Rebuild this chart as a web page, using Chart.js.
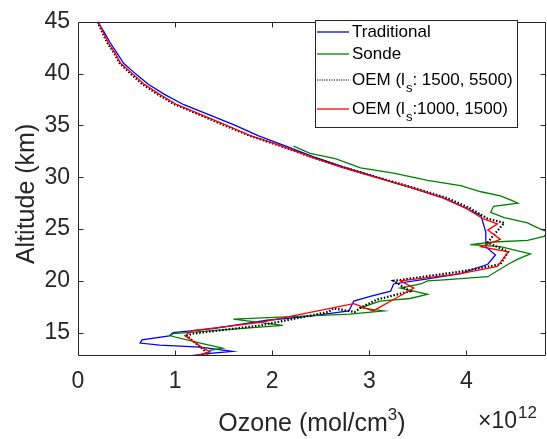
<!DOCTYPE html>
<html>
<head>
<meta charset="utf-8">
<script src="https://cdn.jsdelivr.net/npm/chart.js@4.4.0/dist/chart.umd.min.js"></script>
<style>
html,body{margin:0;padding:0;background:#fff;}
#wrap{width:547px;height:439px;}
</style>
</head>
<body>
<div id="wrap"><canvas id="c" width="547" height="439"></canvas></div>
<script>
// ---- Data (ozone in units of 1e12 mol/cm^3, altitude in km) ----
const xTicks = [0, 1, 2, 3, 4];
const yTicks = [15, 20, 25, 30, 35, 40, 45];

const tradAlt = [45,44,43,42,41,40,39,38,37,36,35,34,33,32,31,30,29,28,27,26.3,24.7,23.3,22.5,21.6,20.7,20.2,19.7,19.0,18.5,18.05,17.1,16.6,16.2,15.4,15.0,14.7,14.3,14.0,13.8,13.6,13.2,13.0,12.65];
const tradO3  = [0.20,0.27,0.33,0.40,0.47,0.59,0.72,0.89,1.09,1.36,1.62,1.86,2.14,2.42,2.73,3.07,3.43,3.76,4.00,4.15,4.20,4.20,4.30,4.22,3.94,3.60,3.25,3.22,3.01,2.84,2.79,2.39,1.95,1.39,0.98,0.94,0.66,0.64,0.84,1.26,1.59,1.36,1.05];

const sondeAlt = [33.0,32.3,31.8,30.9,30.4,29.7,29.2,28.6,28.2,27.8,27.5,27.2,26.6,26.1,25.6,25.3,24.7,24.3,23.9,23.75,23.5,23.3,22.6,22.1,21.6,20.4,20.1,20.0,19.7,19.3,18.7,18.3,18.05,17.4,17.1,16.8,16.3,15.7,14.9,14.7,14.0,13.5,13.3,12.85];
const sondeO3  = [2.22,2.39,2.65,2.91,3.25,3.60,3.94,4.15,4.35,4.46,4.53,4.28,4.25,4.39,4.63,4.69,4.84,4.80,4.63,4.28,4.04,4.35,4.66,4.53,4.43,4.22,3.77,3.60,3.53,3.32,3.60,3.42,3.11,2.91,3.15,2.80,1.60,2.11,0.98,0.95,1.26,1.49,1.36,1.33];

const oem1Alt = [45,44,43,42,41,40,39,38,37,36,35,34,33,32,31,30,29,28,27,26,25.6,24.4,23.7,22.8,21.6,20.9,20.0,19.0,18.2,17.4,17.0,17.35,17.0,15.7,14.9,14.7,13.3,12.75];
const oem1O3  = [0.20,0.25,0.30,0.37,0.43,0.54,0.66,0.82,1.00,1.26,1.51,1.77,2.09,2.39,2.72,3.08,3.45,3.80,4.04,4.22,4.39,4.28,4.22,4.43,4.35,3.94,3.25,3.42,3.08,2.91,2.85,2.63,2.58,1.88,1.18,1.12,1.30,1.34];

const oem2Alt = [45,44,43,42,41,40,39,38,37,36,35,34,33,32,31,30,29,28,27,26,25.5,24.9,24.0,23.3,22.8,21.4,20.7,20.0,19.3,18.2,17.1,17.8,16.0,15.2,14.7,13.5,13.15,12.7];
const oem2O3  = [0.21,0.26,0.31,0.38,0.44,0.56,0.68,0.84,1.02,1.28,1.53,1.78,2.10,2.39,2.70,3.06,3.43,3.76,4.00,4.17,4.32,4.22,4.35,4.15,4.43,4.32,3.94,3.32,3.46,3.25,3.04,2.84,1.88,1.18,1.10,1.29,1.36,1.18];

const seriesNames = ['Traditional', 'Sonde', 'OEM (l', 'OEM (l'];
const seriesSuffix = ['', '', ': 1500, 5500)', ':1000, 1500)'];
const seriesColors = ['#0000ff', '#008000', '#000000', '#ff0000'];

function pts(a, o) { return a.map((y, i) => ({ x: o[i], y: y })); }

const FONT = "'Liberation Sans', Arial, Helvetica, sans-serif";
const AXC = '#262626';

const overlay = {
  id: 'overlay',
  afterDraw(chart) {
    const ctx = chart.ctx;
    const a = chart.chartArea;
    const xs = chart.scales.x, ys = chart.scales.y;
    ctx.save();
    // frame
    ctx.strokeStyle = AXC;
    ctx.lineWidth = 1;
    const L = Math.round(a.left) + 0.5, R = Math.round(a.right) - 0.5;
    const T = Math.round(a.top) + 0.5, B = Math.round(a.bottom) - 0.5;
    ctx.beginPath();
    ctx.rect(L, T, R - L, B - T);
    ctx.stroke();
    // inward ticks
    const tl = 5;
    ctx.beginPath();
    xTicks.forEach(v => {
      const px = Math.round(xs.getPixelForValue(v)) + 0.5;
      ctx.moveTo(px, B); ctx.lineTo(px, B - tl);
      ctx.moveTo(px, T); ctx.lineTo(px, T + tl);
    });
    yTicks.forEach(v => {
      const py = Math.round(ys.getPixelForValue(v)) + 0.5;
      ctx.moveTo(L, py); ctx.lineTo(L + tl, py);
      ctx.moveTo(R, py); ctx.lineTo(R - tl, py);
    });
    ctx.stroke();

    // axis titles
    ctx.fillStyle = AXC;
    ctx.textBaseline = 'alphabetic';
    const big = '25px ' + FONT, small = '17px ' + FONT;
    ctx.font = big;
    const t1 = 'Ozone (mol/cm';
    const w1 = ctx.measureText(t1).width;
    ctx.font = small; const w2 = ctx.measureText('3').width;
    ctx.font = big; const w3 = ctx.measureText(')').width;
    const cx = (a.left + a.right) / 2;
    let x0 = cx - (w1 + w2 + w3) / 2;
    const by = 431;
    ctx.textAlign = 'left';
    ctx.fillText(t1, x0, by);
    ctx.font = small; ctx.fillText('3', x0 + w1, by - 11);
    ctx.font = big; ctx.fillText(')', x0 + w1 + w2, by);

    // exponent
    ctx.font = '23px ' + FONT;
    ctx.fillText('\u00d710', 478, 428);
    ctx.font = '17px ' + FONT;
    ctx.fillText('12', 518, 418);

    // y title
    ctx.save();
    ctx.translate(34, (a.top + a.bottom) / 2 + 5);
    ctx.rotate(-Math.PI / 2);
    ctx.font = big;
    ctx.textAlign = 'center';
    ctx.fillText('Altitude (km)', 0, 0);
    ctx.restore();

    // legend
    const lx = 315.5, ly = 20.5, lw = 202, lh = 107;
    ctx.fillStyle = '#ffffff';
    ctx.fillRect(lx, ly, lw, lh);
    ctx.strokeStyle = AXC;
    ctx.lineWidth = 1;
    ctx.strokeRect(lx, ly, lw, lh);
    const rows = [32, 54, 80, 109];
    for (let i = 0; i < 4; i++) {
      const y = rows[i];
      ctx.beginPath();
      ctx.strokeStyle = seriesColors[i];
      ctx.lineWidth = i === 2 ? 1 : 1.3;
      ctx.setLineDash(i === 2 ? [1.2, 1.2] : []);
      ctx.moveTo(317, y); ctx.lineTo(349, y);
      ctx.stroke();
      ctx.setLineDash([]);
      ctx.fillStyle = '#000000';
      ctx.font = '17px ' + FONT;
      ctx.textAlign = 'left';
      ctx.textBaseline = 'middle';
      ctx.fillText(seriesNames[i], 352, y);
      if (seriesSuffix[i]) {
        const w = ctx.measureText(seriesNames[i]).width;
        ctx.font = '13px ' + FONT;
        ctx.fillText('s', 352 + w + 1, y + 8);
        const ws = ctx.measureText('s').width;
        ctx.font = '17px ' + FONT;
        ctx.fillText(seriesSuffix[i], 352 + w + 1 + ws, y);
      }
    }
    ctx.restore();
  }
};

const ds = (label, a, o, color, order, extra) => Object.assign({
  label: label,
  data: pts(a, o),
  showLine: true,
  borderColor: color,
  backgroundColor: color,
  borderWidth: 1.3,
  pointRadius: 0,
  tension: 0,
  fill: false,
  order: order
}, extra || {});

new Chart(document.getElementById('c'), {
  type: 'scatter',
  data: {
    datasets: [
      ds('Traditional', tradAlt, tradO3, seriesColors[0], 4),
      ds('Sonde', sondeAlt, sondeO3, seriesColors[1], 3),
      ds('OEM (ls: 1500, 5500)', oem1Alt, oem1O3, seriesColors[2], 2, { borderWidth: 2.2, borderDash: [1.5, 1.8] }),
      ds('OEM (ls:1000, 1500)', oem2Alt, oem2O3, seriesColors[3], 1)
    ]
  },
  options: {
    responsive: false,
    animation: false,
    devicePixelRatio: 1,
    layout: { padding: { top: 16, right: 1, left: 0, bottom: 0 } },
    plugins: { legend: { display: false }, tooltip: { enabled: false } },
    scales: {
      x: {
        type: 'linear', min: 0, max: 4.82,
        afterBuildTicks: s => { s.ticks = xTicks.map(v => ({ value: v })); },
        afterFit: s => { s.height = 83; },
        grid: { display: false, drawTicks: false },
        border: { display: false },
        ticks: { color: AXC, font: { family: FONT, size: 23 }, padding: 12, maxRotation: 0 }
      },
      y: {
        type: 'linear', min: 12.75, max: 45,
        afterBuildTicks: s => { s.ticks = yTicks.map(v => ({ value: v })); },
        afterFit: s => { s.width = 78; },
        grid: { display: false, drawTicks: false },
        border: { display: false },
        ticks: { color: AXC, font: { family: FONT, size: 23 }, padding: 8 }
      }
    }
  },
  plugins: [overlay]
});
</script>
</body>
</html>
